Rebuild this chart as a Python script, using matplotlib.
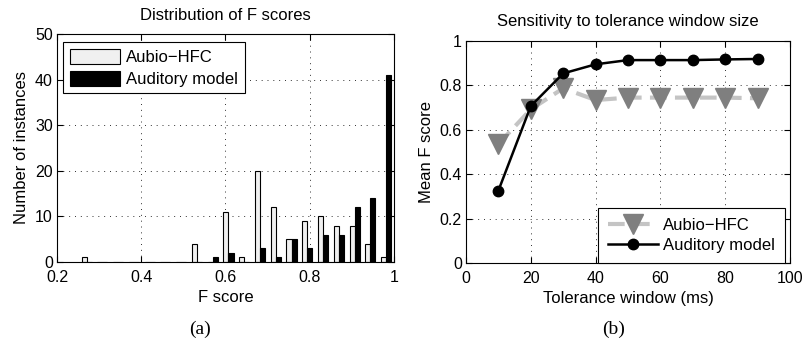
import numpy as np
import matplotlib
matplotlib.use("Agg")
import matplotlib.pyplot as plt

plt.rcParams['font.family'] = ['Liberation Sans', 'DejaVu Sans']
plt.rcParams['font.size'] = 12

# histogram: 20 bins between ~0.252 and 1
bin_centers = 0.2705 + 0.0374 * np.arange(20)
aubio_counts = [1, 0, 0, 0, 0, 0, 0, 4, 0, 11, 1, 20, 12, 5, 9, 10, 8, 8, 4, 1]
auditory_counts = [0, 0, 0, 0, 0, 0, 0, 0, 1, 2, 0, 3, 1, 5, 3, 6, 6, 12, 14, 41]

# tolerance window sweep
tol_ms = [10, 20, 30, 40, 50, 60, 70, 80, 90]
aubio_mean_f = [0.536, 0.692, 0.787, 0.734, 0.745, 0.745, 0.745, 0.745, 0.742]
auditory_mean_f = [0.326, 0.707, 0.854, 0.895, 0.914, 0.914, 0.914, 0.917, 0.919]

W, H = 804, 346
fig = plt.figure(figsize=(W / 100, H / 100), dpi=100)
ax1 = fig.add_axes([57 / W, 1 - 262 / H, 337 / W, 228 / H])
ax2 = fig.add_axes([466 / W, 1 - 263 / H, 324 / W, 222 / H])

for ax in (ax1, ax2):
    ax.grid(True, linestyle=(0, (1, 5)), color='#303030', linewidth=0.7)
    ax.set_axisbelow(True)
    ax.tick_params(direction='in', top=True, right=True, length=4, labelsize=11.5)
    ax.tick_params(axis='x', pad=6)
    ax.tick_params(axis='y', pad=3)
    for s in ax.spines.values():
        s.set_linewidth(0.8)

# (a) histogram
bw = 0.0119
ax1.bar(bin_centers - bw / 2, aubio_counts, width=bw, color='#f0f0f0',
        edgecolor='black', linewidth=0.8, label='Aubio\u2212HFC')
ax1.bar(bin_centers + bw / 2, auditory_counts, width=bw, color='black',
        edgecolor='black', linewidth=0.8, label='Auditory model')
ax1.set_xlim(0.2, 1)
ax1.set_ylim(0, 50)
ax1.set_xticks([0.2, 0.4, 0.6, 0.8, 1])
ax1.set_xticklabels(['0.2', '0.4', '0.6', '0.8', '1'])
ax1.set_yticks([0, 10, 20, 30, 40, 50])
ax1.set_xlabel('F score', labelpad=3)
ax1.set_ylabel('Number of instances', labelpad=4)
ax1.set_title('Distribution of F scores', fontsize=12, pad=10)
leg1 = ax1.legend(loc='upper left', bbox_to_anchor=(6 / 337, 1 - 8 / 228),
                  handlelength=3.0, handleheight=1.0, fontsize=12,
                  fancybox=False, borderaxespad=0, labelspacing=0.35,
                  handletextpad=0.4, borderpad=0.4)
leg1.get_frame().set_edgecolor('black')
leg1.get_frame().set_linewidth(0.8)
leg1.get_frame().set_alpha(1)

# (b) tolerance window
ax2.plot(tol_ms, aubio_mean_f, linestyle='--', dashes=(4, 2), color='#c4c4c4',
         linewidth=3, marker='v', markersize=14, markerfacecolor='#7f7f7f',
         markeredgecolor='#7f7f7f', label='Aubio\u2212HFC')
ax2.plot(tol_ms, auditory_mean_f, '-', color='black', linewidth=1.8,
         marker='o', markersize=7.5, label='Auditory model')
ax2.set_xlim(0, 100)
ax2.set_ylim(0, 1)
ax2.set_xticks([0, 20, 40, 60, 80, 100])
ax2.set_yticks([0, 0.2, 0.4, 0.6, 0.8, 1])
ax2.set_yticklabels(['0', '0.2', '0.4', '0.6', '0.8', '1'])
ax2.set_xlabel('Tolerance window (ms)', labelpad=3)
ax2.set_ylabel('Mean F score', labelpad=4)
ax2.set_title('Sensitivity to tolerance window size', fontsize=12, pad=11)
leg2 = ax2.legend(loc='lower right', bbox_to_anchor=(1 - 5 / 324, 0),
                  fontsize=12, fancybox=False, handlelength=3.0,
                  borderaxespad=0, labelspacing=0.3, handletextpad=0.3,
                  borderpad=0.6)
leg2.get_frame().set_edgecolor('black')
leg2.get_frame().set_linewidth(0.8)
leg2.get_frame().set_alpha(1)

fig.text(200 / W, 1 - 329 / H, '(a)', family='Liberation Serif', fontsize=14,
         ha='center', va='center')
fig.text(614 / W, 1 - 329 / H, '(b)', family='Liberation Serif', fontsize=14,
         ha='center', va='center')

fig.savefig('out.png', dpi=100)
